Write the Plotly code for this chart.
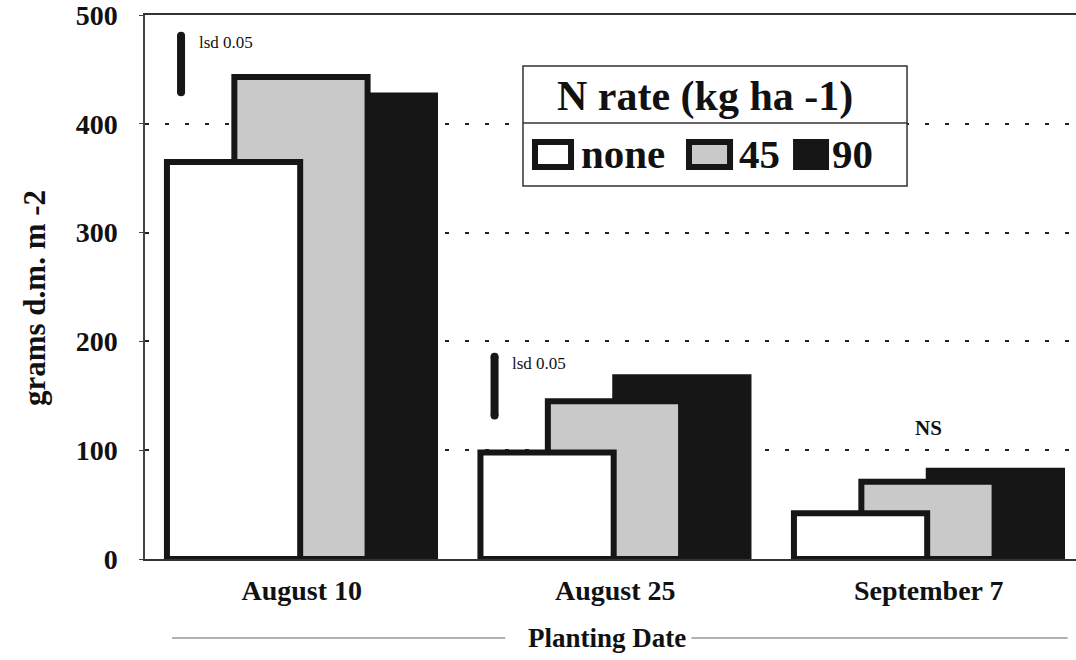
import plotly.graph_objects as go

# Planting dates and above-ground dry matter (g d.m. m-2) by N rate
dates = ["August 10", "August 25", "September 7"]
n_none = [365, 98, 42]
n_45 = [443, 145, 71]
n_90 = [426, 167, 81]

# LSD (0.05) bars: bottom and top of each bar, per planting date
lsd_dates = [0, 1]
lsd_low = [429, 132]
lsd_high = [481, 186]

y_ticks = [0, 100, 200, 300, 400, 500]

SERIF = "Liberation Serif"
INK = "#161616"
GRAY = "#c9c9c9"

fig = go.Figure()

x_pos = list(range(len(dates)))
bar_w = 0.425

# back to front: 90, 45, none
for vals, fill, off in [(n_90, INK, 0.0), (n_45, GRAY, -0.215), (n_none, "white", -0.43)]:
    fig.add_trace(go.Bar(
        x=x_pos, y=vals, width=bar_w, offset=off,
        marker=dict(color=fill, line=dict(color=INK, width=6)),
        cliponaxis=False, showlegend=False, hoverinfo="skip",
    ))

# LSD bars with rounded ends
for d, lo, hi in zip(lsd_dates, lsd_low, lsd_high):
    xd = d - 0.385
    fig.add_trace(go.Scatter(
        x=[xd, xd], y=[lo, hi], mode="lines+markers",
        line=dict(color=INK, width=8),
        marker=dict(size=8, color=INK, symbol="circle"),
        showlegend=False, hoverinfo="skip",
    ))
    fig.add_annotation(x=d - 0.335, y=hi - 6, text="lsd 0.05", showarrow=False,
                       xanchor="left", yanchor="middle",
                       font=dict(family=SERIF, size=17, color="#111"))

fig.add_annotation(x=2, y=120, text="NS", showarrow=False,
                   font=dict(family=SERIF, size=21, color="#111", weight="bold"))

# legend box
shapes = [
    dict(type="rect", xref="paper", yref="paper", x0=0.406, x1=0.8185, y0=0.6857, y1=0.9062,
         line=dict(color="#333", width=1.5), fillcolor="white", layer="above"),
    dict(type="line", xref="paper", yref="paper", x0=0.406, x1=0.8185, y0=0.8015, y1=0.8015,
         line=dict(color="#333", width=1.5), layer="above"),
]
swatches = [("none", "white", 0.4189, 0.4576, 0.4662),
            ("45", GRAY, 0.5843, 0.6284, 0.6359),
            ("90", INK, 0.6993, 0.7315, 0.7358)]
for label, fill, sx0, sx1, tx in swatches:
    shapes.append(dict(type="rect", xref="paper", yref="paper", x0=sx0, x1=sx1,
                       y0=0.7206, y1=0.7665, fillcolor=fill,
                       line=dict(color=INK, width=6), layer="above"))
    fig.add_annotation(xref="paper", yref="paper", x=tx, y=0.7436, text=label,
                       showarrow=False, xanchor="left", yanchor="middle",
                       font=dict(family=SERIF, size=41, color="#111", weight="bold"))
fig.add_annotation(xref="paper", yref="paper", x=0.6015, y=0.851, text="N rate (kg ha -1)",
                   showarrow=False, xanchor="center", yanchor="middle",
                   font=dict(family=SERIF, size=42, color="#111", weight="bold"))

# x-axis title with rules on either side
shapes += [
    dict(type="line", xref="paper", yref="paper", x0=0.029, x1=0.387, y0=-0.145, y1=-0.145,
         line=dict(color="#999", width=1.5)),
    dict(type="line", xref="paper", yref="paper", x0=0.587, x1=0.991, y0=-0.145, y1=-0.145,
         line=dict(color="#999", width=1.5)),
]
fig.add_annotation(x=0.974, xref="x", yref="paper", y=-0.145, text="Planting Date",
                   showarrow=False, yanchor="middle",
                   font=dict(family=SERIF, size=27, color="#111", weight="bold"))

# y-axis title
fig.add_annotation(xref="paper", yref="paper", x=-0.118, y=0.48, text="grams d.m. m -2",
                   textangle=-90, showarrow=False, xanchor="center", yanchor="middle",
                   font=dict(family=SERIF, size=31, color="#111", weight="bold"))

fig.update_layout(
    width=1076, height=660,
    margin=dict(l=145, r=0, t=15, b=101),
    paper_bgcolor="white", plot_bgcolor="white",
    barmode="overlay",
    shapes=shapes,
    showlegend=False,
)
fig.update_xaxes(
    range=[-0.5, 2.4697], tickvals=x_pos, ticktext=dates,
    showline=True, linecolor="#333", linewidth=1.5, mirror=True,
    showgrid=False, zeroline=False, ticks="",
    tickfont=dict(family=SERIF, size=28, color="#111", weight="bold"),
    ticklabelstandoff=6,
)
fig.update_yaxes(
    range=[0, 500], tickvals=y_ticks,
    showline=True, linecolor="#444", linewidth=1.5,
    showgrid=True, gridcolor="#222", gridwidth=1.5, griddash="4px,16px",
    zeroline=False, ticks="outside", ticklen=4, tickcolor="#444",
    tickfont=dict(family=SERIF, size=28, color="#111", weight="bold"),
    ticklabelstandoff=16, ticklabeloverflow="allow",
)

fig.write_html("out.html")
